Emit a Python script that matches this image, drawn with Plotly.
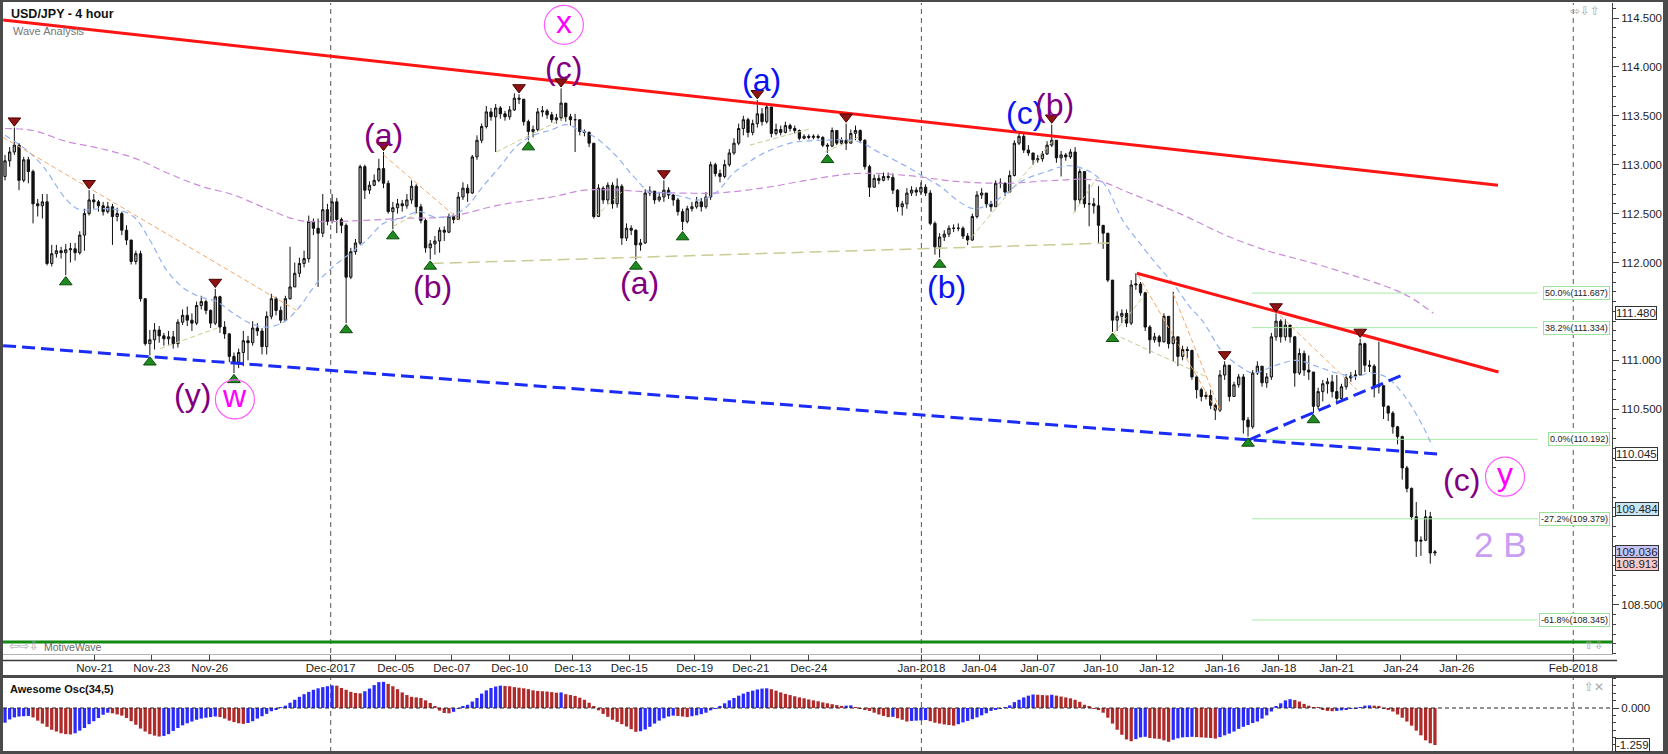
import plotly.graph_objects as go

W, H = 1668, 754
FONT = "Liberation Sans, Arial, sans-serif"

# ---------------- data ----------------
first_open = 112.88
closes = [
    113.04, 113.13, 113.20, 112.84, 113.05, 112.93, 112.60, 112.58, 112.62, 111.99,
    112.09, 112.12, 112.10, 112.13, 112.14, 112.10, 112.28, 112.50, 112.64, 112.62,
    112.58, 112.52, 112.57, 112.47, 112.50, 112.33, 112.23, 112.01, 112.09, 111.63,
    111.17, 111.21, 111.31, 111.25, 111.22, 111.24, 111.17, 111.39, 111.46, 111.41,
    111.38, 111.56, 111.60, 111.51, 111.38, 111.65, 111.34, 111.27, 111.04, 110.98,
    111.08, 111.20, 111.18, 111.33, 111.30, 111.14, 111.45, 111.63, 111.51, 111.41,
    111.63, 111.75, 111.89, 111.99, 112.04, 112.42, 112.35, 112.30, 112.54, 112.42,
    112.62, 112.44, 112.38, 111.85, 112.11, 112.20, 112.98, 112.74, 112.79, 112.84,
    112.96, 112.81, 112.52, 112.56, 112.60, 112.58, 112.64, 112.78, 112.57, 112.43,
    112.15, 112.19, 112.22, 112.33, 112.31, 112.47, 112.44, 112.67, 112.76, 112.71,
    113.08, 113.25, 113.39, 113.54, 113.49, 113.58, 113.52, 113.49, 113.56, 113.68,
    113.67, 113.44, 113.34, 113.36, 113.54, 113.55, 113.51, 113.46, 113.48, 113.63,
    113.49, 113.46, 113.46, 113.34, 113.33, 113.22, 112.47, 112.76, 112.64, 112.79,
    112.60, 112.78, 112.25, 112.35, 112.33, 112.18, 112.20, 112.71, 112.73, 112.64,
    112.67, 112.74, 112.69, 112.64, 112.52, 112.42, 112.55, 112.57, 112.62, 112.57,
    112.67, 113.00, 112.91, 112.88, 113.00, 113.12, 113.22, 113.37, 113.46, 113.33,
    113.42, 113.52, 113.44, 113.59, 113.32, 113.36, 113.33, 113.40, 113.37, 113.35,
    113.27, 113.29, 113.28, 113.29, 113.28, 113.20, 113.19, 113.35, 113.22, 113.25,
    113.22, 113.32, 113.35, 113.25, 112.98, 112.77, 112.86, 112.84, 112.88, 112.87,
    112.74, 112.57, 112.60, 112.71, 112.74, 112.72, 112.77, 112.71, 112.40, 112.16,
    112.26, 112.29, 112.35, 112.35, 112.35, 112.27, 112.23, 112.47, 112.69, 112.71,
    112.60, 112.57, 112.81, 112.81, 112.72, 112.89, 113.22, 113.29, 113.15, 113.12,
    113.05, 113.06, 113.11, 113.20, 113.25, 113.07, 113.10, 113.08, 113.13, 112.64,
    112.93, 112.60, 112.60, 112.58, 112.38, 112.30, 111.82, 111.41, 111.45, 111.48,
    111.38, 111.77, 111.78, 111.69, 111.34, 111.21, 111.24, 111.19, 111.45, 111.17,
    111.24, 111.04, 111.11, 111.10, 110.83, 110.70, 110.63, 110.64, 110.54, 110.49,
    110.85, 110.95, 110.63, 110.75, 110.83, 110.39, 110.32, 110.87, 110.94, 110.77,
    110.83, 111.24, 111.40, 111.24, 111.36, 111.24, 110.87, 111.07, 110.90, 110.88,
    110.53, 110.68, 110.76, 110.78, 110.68, 110.61, 110.73, 110.82, 110.84, 110.85,
    111.17, 110.95, 110.94, 110.73, 110.74, 110.53, 110.46, 110.32, 110.22, 109.90,
    109.69, 109.40, 109.15, 109.16, 109.40, 109.03, 109.04,
]
highs = [
    113.10, 113.18, 113.38, 113.22, 113.08, 113.08, 112.95, 112.65, 112.70, 112.70,
    112.18, 112.18, 112.16, 112.19, 112.20, 112.20, 112.32, 112.55, 112.74, 112.70,
    112.64, 112.62, 112.62, 112.60, 112.56, 112.52, 112.38, 112.22, 112.12, 112.12,
    111.63, 111.31, 111.38, 111.35, 111.28, 111.30, 111.30, 111.42, 111.52, 111.55,
    111.48, 111.60, 111.66, 111.62, 111.52, 111.73, 111.66, 111.40, 111.28, 111.08,
    111.12, 111.30, 111.25, 111.40, 111.38, 111.33, 111.50, 111.68, 111.65, 111.55,
    111.66, 112.16, 112.00, 112.05, 112.12, 112.48, 112.45, 112.45, 112.70, 112.60,
    112.70, 112.66, 112.46, 112.40, 112.15, 112.24, 113.00, 113.00, 112.83, 112.90,
    113.06, 113.13, 112.84, 112.62, 112.65, 112.64, 112.70, 112.84, 112.80, 112.60,
    112.45, 112.23, 112.27, 112.36, 112.37, 112.50, 112.50, 112.72, 112.82, 112.80,
    113.10, 113.30, 113.42, 113.60, 113.58, 113.62, 113.60, 113.55, 113.60, 113.73,
    113.72, 113.62, 113.46, 113.40, 113.58, 113.60, 113.57, 113.54, 113.52, 113.78,
    113.62, 113.52, 113.52, 113.45, 113.36, 113.34, 113.22, 112.80, 112.78, 112.82,
    112.82, 112.86, 112.80, 112.40, 112.38, 112.34, 112.24, 112.75, 112.78, 112.70,
    112.72, 112.84, 112.77, 112.70, 112.66, 112.55, 112.58, 112.62, 112.67, 112.66,
    112.72, 113.03, 113.02, 112.95, 113.05, 113.16, 113.27, 113.42, 113.50, 113.48,
    113.46, 113.66, 113.58, 113.62, 113.50, 113.42, 113.40, 113.44, 113.42, 113.40,
    113.36, 113.31, 113.31, 113.31, 113.31, 113.29, 113.22, 113.38, 113.32, 113.28,
    113.42, 113.36, 113.40, 113.36, 113.26, 113.00, 112.90, 112.90, 112.92, 112.92,
    112.91, 112.75, 112.63, 112.76, 112.78, 112.77, 112.82, 112.80, 112.74, 112.42,
    112.30, 112.33, 112.38, 112.39, 112.40, 112.37, 112.30, 112.50, 112.73, 112.76,
    112.70, 112.63, 112.84, 112.86, 112.82, 112.94, 113.25, 113.34, 113.32, 113.20,
    113.12, 113.10, 113.14, 113.24, 113.41, 113.25, 113.14, 113.12, 113.16, 113.18,
    112.96, 112.92, 112.80, 112.66, 112.78, 112.38, 112.30, 111.82, 111.50, 111.52,
    111.52, 111.82, 111.89, 111.80, 111.70, 111.36, 111.28, 111.26, 111.48, 111.25,
    111.70, 111.24, 111.15, 111.14, 111.11, 110.85, 110.72, 110.68, 110.70, 110.56,
    110.90, 110.99, 110.95, 110.78, 110.86, 110.86, 110.42, 110.90, 110.99, 110.92,
    110.87, 111.28, 111.48, 111.42, 111.42, 111.36, 111.25, 111.12, 111.10, 111.05,
    110.88, 110.72, 110.80, 110.82, 110.85, 110.85, 110.76, 110.86, 110.88, 110.90,
    111.22, 111.18, 111.00, 110.96, 111.19, 110.74, 110.54, 110.48, 110.33, 110.23,
    109.92, 109.70, 109.55, 109.20, 109.47, 109.45, 109.06,
]
lows = [
    112.84, 112.98, 113.10, 112.74, 112.82, 112.81, 112.40, 112.47, 112.45, 111.97,
    111.96, 112.05, 112.04, 111.87, 112.00, 112.02, 112.08, 112.12, 112.48, 112.55,
    112.52, 112.48, 112.50, 112.18, 112.42, 112.28, 112.18, 111.98, 111.98, 111.60,
    111.15, 111.05, 111.11, 111.18, 111.15, 111.16, 111.12, 111.13, 111.36, 111.35,
    111.30, 111.36, 111.52, 111.47, 111.33, 111.36, 111.28, 111.22, 110.98, 110.87,
    110.92, 110.94, 111.00, 111.15, 111.25, 111.06, 111.06, 111.42, 111.46, 111.38,
    111.40, 111.62, 111.75, 111.85, 111.95, 112.00, 112.28, 111.75, 112.26, 112.38,
    112.40, 112.30, 112.30, 111.38, 111.83, 112.08, 112.18, 112.65, 112.70, 112.78,
    112.82, 112.76, 112.50, 112.34, 112.50, 112.52, 112.55, 112.60, 112.50, 112.40,
    112.10, 112.03, 112.08, 112.10, 112.22, 112.30, 112.40, 112.44, 112.64, 112.62,
    112.70, 113.05, 113.22, 113.37, 113.45, 113.13, 113.47, 113.45, 113.46, 113.55,
    113.62, 113.40, 113.25, 113.28, 113.34, 113.49, 113.47, 113.43, 113.42, 113.45,
    113.44, 113.40, 113.13, 113.30, 113.29, 113.18, 112.45, 112.50, 112.60, 112.60,
    112.55, 112.56, 112.18, 112.22, 112.28, 112.03, 112.12, 112.19, 112.68, 112.60,
    112.62, 112.62, 112.65, 112.58, 112.48, 112.33, 112.40, 112.52, 112.55, 112.52,
    112.55, 112.64, 112.88, 112.82, 112.86, 112.98, 113.10, 113.20, 113.30, 113.28,
    113.30, 113.38, 113.40, 113.42, 113.28, 113.30, 113.30, 113.32, 113.34, 113.32,
    113.25, 113.26, 113.26, 113.26, 113.26, 113.18, 113.12, 113.18, 113.20, 113.20,
    113.15, 113.22, 113.25, 113.22, 112.95, 112.67, 112.77, 112.80, 112.83, 112.84,
    112.70, 112.52, 112.48, 112.55, 112.68, 112.68, 112.69, 112.68, 112.38, 112.08,
    112.05, 112.22, 112.26, 112.31, 112.32, 112.24, 112.18, 112.22, 112.45, 112.65,
    112.56, 112.52, 112.57, 112.76, 112.68, 112.78, 112.88, 113.20, 113.12, 113.09,
    113.00, 113.02, 113.03, 113.10, 113.18, 113.02, 112.88, 113.04, 113.06, 112.52,
    112.60, 112.56, 112.37, 112.50, 112.20, 112.14, 111.80, 111.29, 111.30, 111.38,
    111.34, 111.36, 111.72, 111.66, 111.30, 111.07, 111.18, 111.14, 111.18, 111.12,
    110.99, 110.94, 111.00, 111.02, 110.80, 110.61, 110.58, 110.60, 110.50, 110.39,
    110.47, 110.80, 110.58, 110.65, 110.72, 110.25, 110.22, 110.30, 110.85, 110.73,
    110.72, 110.80, 111.20, 111.18, 111.20, 111.18, 110.73, 110.85, 110.84, 110.80,
    110.46, 110.50, 110.58, 110.66, 110.62, 110.55, 110.58, 110.70, 110.78, 110.80,
    110.87, 110.88, 110.88, 110.62, 110.66, 110.40, 110.38, 110.25, 110.14, 109.78,
    109.65, 109.37, 108.99, 109.00, 109.15, 108.92, 109.00,
]
ao_values = [
    -0.50, -0.39, -0.32, -0.29, -0.28, -0.27, -0.32, -0.43, -0.53, -0.64,
    -0.74, -0.80, -0.86, -0.89, -0.90, -0.86, -0.77, -0.68, -0.55, -0.45,
    -0.34, -0.23, -0.16, -0.18, -0.22, -0.26, -0.34, -0.45, -0.57, -0.70,
    -0.80, -0.89, -0.94, -0.97, -0.95, -0.89, -0.78, -0.68, -0.59, -0.52,
    -0.46, -0.40, -0.36, -0.33, -0.31, -0.29, -0.31, -0.36, -0.43, -0.48,
    -0.52, -0.54, -0.51, -0.45, -0.36, -0.28, -0.20, -0.11, -0.05, 0.01,
    0.08, 0.18, 0.28, 0.38, 0.47, 0.55, 0.62, 0.67, 0.71, 0.74,
    0.77, 0.76, 0.68, 0.62, 0.55, 0.51, 0.50, 0.57, 0.66, 0.78,
    0.88, 0.89, 0.82, 0.74, 0.64, 0.53, 0.44, 0.38, 0.36, 0.34,
    0.26, 0.17, 0.05, -0.09, -0.17, -0.18, -0.13, -0.02, 0.05, 0.11,
    0.22, 0.34, 0.49, 0.60, 0.68, 0.73, 0.76, 0.75, 0.74, 0.71,
    0.69, 0.67, 0.64, 0.60, 0.58, 0.57, 0.56, 0.54, 0.52, 0.53,
    0.47, 0.44, 0.41, 0.35, 0.28, 0.18, 0.05, -0.08, -0.20, -0.30,
    -0.40, -0.47, -0.55, -0.63, -0.72, -0.81, -0.79, -0.73, -0.64, -0.53,
    -0.43, -0.35, -0.29, -0.26, -0.27, -0.29, -0.31, -0.28, -0.25, -0.21,
    -0.16, -0.08, -0.01, 0.07, 0.16, 0.26, 0.34, 0.42, 0.49, 0.55,
    0.59, 0.63, 0.66, 0.67, 0.64, 0.59, 0.53, 0.48, 0.44, 0.40,
    0.36, 0.33, 0.29, 0.26, 0.23, 0.19, 0.16, 0.13, 0.10, 0.07,
    0.08, 0.09, 0.03, -0.01, -0.05, -0.10, -0.16, -0.22, -0.27, -0.31,
    -0.30, -0.35, -0.40, -0.46, -0.44, -0.43, -0.42, -0.41, -0.45, -0.50,
    -0.53, -0.56, -0.58, -0.60, -0.55, -0.49, -0.44, -0.38, -0.32, -0.25,
    -0.18, -0.10, -0.05, -0.01, 0.03, 0.09, 0.20, 0.28, 0.36, 0.42,
    0.46, 0.45, 0.44, 0.43, 0.45, 0.42, 0.39, 0.36, 0.33, 0.28,
    0.21, 0.11, 0.04, -0.02, -0.07, -0.16, -0.33, -0.53, -0.74, -0.91,
    -1.07, -1.13, -1.06, -1.00, -0.98, -1.02, -1.04, -1.05, -1.10, -1.15,
    -1.08, -1.03, -1.00, -0.99, -0.98, -0.99, -1.00, -1.01, -1.02, -1.04,
    -0.99, -0.93, -0.87, -0.80, -0.71, -0.64, -0.58, -0.51, -0.46, -0.36,
    -0.25, -0.12, 0.05, 0.16, 0.26, 0.30, 0.27, 0.22, 0.14, 0.08,
    0.03, 0.01, -0.05, -0.10, -0.11, -0.10, -0.08, -0.05, -0.03, -0.01,
    0.03, 0.08, 0.09, 0.08, 0.07, -0.01, -0.05, -0.12, -0.22, -0.33,
    -0.46, -0.60, -0.77, -0.93, -1.10, -1.20, -1.259,
]

tick_pos = [19.2, 31.4, 43.8, 69.7, 83.6, 95.6, 108.0, 121.5, 133.6, 147.6, 159.6, 172.0,
            196.1, 208.5, 221.0, 234.5, 246.5, 260.5, 272.6, 285.0, 298.7, 310.7, 335.6]
tick_text = ["Nov-21", "Nov-23", "Nov-26", "Dec-2017", "Dec-05", "Dec-07", "Dec-10", "Dec-13",
             "Dec-15", "Dec-19", "Dec-21", "Dec-24", "Jan-2018", "Jan-04", "Jan-07", "Jan-10",
             "Jan-12", "Jan-16", "Jan-18", "Jan-21", "Jan-24", "Jan-26", "Feb-2018"]
# price labels visible on the right axis (others are hidden behind value tags)
price_ticks = [108.5, 110.5, 111.0, 112.0, 112.5, 113.0, 113.5, 114.0, 114.5]

# moving averages (bar index, price)
ma_slow_x = [0, 6, 13, 20, 27.5, 35, 42, 49, 56, 63, 70, 77, 84.5, 95, 106, 117, 124, 131, 138,
             145, 152, 162, 171.5, 182, 193, 203.5, 214.2, 224.9, 233.6, 240.7, 251.4, 262.1,
             270.8, 277.1, 285, 299.3, 305.7]
ma_slow_y = [113.37, 113.35, 113.24, 113.17, 113.07, 112.91, 112.78, 112.69, 112.55, 112.43,
             112.42, 112.43, 112.45, 112.47, 112.59, 112.67, 112.74, 112.74, 112.72, 112.71,
             112.71, 112.76, 112.84, 112.91, 112.89, 112.83, 112.81, 112.84, 112.84, 112.71,
             112.50, 112.26, 112.11, 112.03, 111.92, 111.68, 111.48]
ma_fast_x = [0, 4.6, 8.2, 13.2, 16, 20.3, 23.9, 27.5, 31, 34.6, 38.2, 41.7, 45.3, 48.9, 52.4, 56,
             59.6, 63.1, 66.7, 70.3, 73.8, 77.4, 81, 84.5, 88.8, 91.6, 95.2, 98.8, 102.3, 105.9,
             109.5, 113, 116.6, 120.2, 122.3, 125.9, 130.2, 134.5, 138, 141.6, 145.2, 148.7,
             152.3, 155.8, 158.7, 161.6, 168, 175.1, 182.3, 187.3, 193, 196.5, 200.1, 203.7,
             207.2, 210.8, 214.3, 217.9, 222.9, 227.5, 232.1, 235.6, 239.2, 242.8, 246.3, 249.9,
             253.5, 256.3, 260.6, 264.2, 267, 272, 276.3, 280.6, 284.9, 289.1, 292, 295.5,
             299.1, 302.7, 305.5]
ma_fast_y = [113.30, 113.15, 112.98, 112.64, 112.54, 112.55, 112.54, 112.47, 112.23, 111.92,
             111.74, 111.65, 111.60, 111.48, 111.38, 111.34, 111.39, 111.55, 111.79, 111.96,
             112.09, 112.23, 112.40, 112.45, 112.52, 112.47, 112.47, 112.57, 112.78, 112.98,
             113.19, 113.30, 113.35, 113.41, 113.37, 113.29, 113.12, 112.88, 112.72, 112.71,
             112.67, 112.64, 112.72, 112.91, 113.01, 113.10, 113.22, 113.25, 113.24, 113.12,
             112.98, 112.88, 112.78, 112.64, 112.55, 112.60, 112.71, 112.84, 112.93, 112.99,
             112.93, 112.78, 112.43, 112.20, 111.99, 111.79, 111.55, 111.40, 111.08, 110.94,
             110.87, 110.95, 111.00, 110.94, 110.87, 110.83, 110.87, 110.83, 110.66, 110.39,
             110.12]

# trend lines: (x0, y0, x1, y1)
red_lines = [(-0.4, 114.48, 319.5, 112.79), (242.2, 111.89, 319.6, 110.88)]
blue_lines = [(-0.4, 111.15, 307.1, 110.04), (266.1, 110.185, 299.6, 110.86)]
base_line = (91.3, 111.99, 237.2, 112.20)
orange_segs = [(-0.4, 113.28, 62.4, 111.51), (81.0, 113.10, 97.4, 112.43),
               (242.5, 111.87, 259.6, 110.46), (250.0, 111.68, 260.0, 110.49),
               (272.8, 111.46, 289.3, 110.70)]
olive_segs = [(33.2, 111.12, 46.0, 111.34), (83.1, 112.37, 88.8, 112.52),
              (105.1, 113.13, 120.2, 113.49), (126.3, 112.47, 132.0, 112.72),
              (159.4, 113.20, 172.6, 113.37), (175.5, 113.13, 183.0, 113.29),
              (205.8, 112.20, 225.0, 113.29), (228.6, 112.50, 234.3, 112.91),
              (237.2, 111.27, 257.2, 110.83), (237.2, 111.27, 243.6, 111.65)]

# swing markers
top_x = [2, 18, 45, 81, 110, 119, 141, 161, 180, 224, 261, 272, 290]
top_y = [113.45, 112.81, 111.80, 113.20, 113.79, 113.85, 112.91, 113.73, 113.49, 113.48,
         111.06, 111.55, 111.29]
bot_x = [13, 31, 49, 73, 83, 91, 112, 135, 145, 176, 200, 237, 266, 280]
bot_y = [111.80, 110.98, 110.80, 111.31, 112.27, 111.96, 113.18, 111.96, 112.26, 113.05,
         111.98, 111.22, 110.15, 110.39]

# fibonacci levels
fib_pct = ["50.0%", "38.2%", "0.0%", "-27.2%", "-61.8%"]
fib_lvl = [111.687, 111.334, 110.192, 109.379, 108.345]
fib_x0, fib_x1 = 266.8, 328.0

# wave labels
PURPLE, BLUE, MAG = "#800080", "#0a14f0", "#ff00ff"
wave_labels = [("(a)", 81.1, 113.30, PURPLE), ("(b)", 91.5, 111.75, PURPLE),
               ("(c)", 119.6, 113.99, PURPLE), ("(a)", 135.7, 111.79, PURPLE),
               ("(a)", 161.8, 113.87, BLUE), ("(b)", 201.5, 111.75, BLUE),
               ("(c)", 218.1, 113.53, BLUE), ("(b)", 224.5, 113.61, PURPLE),
               ("(y)", 40.2, 110.65, PURPLE), ("(c)", 311.7, 109.78, PURPLE)]
circled = [("x", 119.6, 114.43), ("w", 49.2, 110.60), ("y", 321.0, 109.81)]
big_label = ("2 B", 320.0, 109.12)

# axis value tags
tag_vals = [111.480, 110.045, 109.484, 109.036, 108.913]
tag_fill = ["#ffffff", "#ffffff", "#c8e6f5", "#c4c4fa", "#f7c9c9"]
ao_last = -1.259

# ---------------- helpers for layout positions ----------------
def fx(px):
    return px / W


def fy(py):
    return (H - py) / H


n = min(len(closes), len(highs), len(lows))
idx = list(range(n))
opens = [first_open] + closes[:n - 1]
hi = [max(highs[i], opens[i], closes[i]) for i in range(n)]
lo = [min(lows[i], opens[i], closes[i]) for i in range(n)]

ao = ao_values[:n]
ao_col = []
for i, v in enumerate(ao):
    if i == 0 or v > ao[i - 1]:
        ao_col.append("#2a2aff")
    else:
        ao_col.append("#b02a2a")

fig = go.Figure()

# fib lines
for lv in fib_lvl:
    fig.add_trace(go.Scatter(x=[fib_x0, fib_x1], y=[lv, lv], mode="lines",
                             line=dict(color="#a6eba6", width=1), hoverinfo="skip"))

# moving averages
fig.add_trace(go.Scatter(x=ma_slow_x, y=ma_slow_y, mode="lines",
                         line=dict(color="#c98bd8", width=1.2, dash="7px,4px", shape="spline"),
                         hoverinfo="skip"))
fig.add_trace(go.Scatter(x=ma_fast_x, y=ma_fast_y, mode="lines",
                         line=dict(color="#94b2f2", width=1.2, dash="6px,4px", shape="spline"),
                         hoverinfo="skip"))

# thin wave connectors
for seg in orange_segs:
    fig.add_trace(go.Scatter(x=[seg[0], seg[2]], y=[seg[1], seg[3]], mode="lines",
                             line=dict(color="#f4a868", width=1, dash="5px,3px"), hoverinfo="skip"))
for seg in olive_segs:
    fig.add_trace(go.Scatter(x=[seg[0], seg[2]], y=[seg[1], seg[3]], mode="lines",
                             line=dict(color="#c9c98f", width=1, dash="5px,3px"), hoverinfo="skip"))
fig.add_trace(go.Scatter(x=[base_line[0], base_line[2]], y=[base_line[1], base_line[3]],
                         mode="lines", line=dict(color="#cbcb95", width=1.5, dash="12px,6px"),
                         hoverinfo="skip"))

# candles
fig.add_trace(go.Candlestick(
    x=idx, open=opens, high=hi, low=lo, close=closes[:n],
    increasing=dict(line=dict(color="#111111", width=1), fillcolor="#a8a8a8"),
    decreasing=dict(line=dict(color="#111111", width=1), fillcolor="#111111"),
    whiskerwidth=0, xaxis="x", yaxis="y", hoverinfo="skip"))

# trend lines
for ln in red_lines:
    fig.add_trace(go.Scatter(x=[ln[0], ln[2]], y=[ln[1], ln[3]], mode="lines",
                             line=dict(color="#ff1414", width=3), hoverinfo="skip"))
for ln in blue_lines:
    fig.add_trace(go.Scatter(x=[ln[0], ln[2]], y=[ln[1], ln[3]], mode="lines",
                             line=dict(color="#1a2cf5", width=3, dash="13px,6px"), hoverinfo="skip"))

# swing markers
fig.add_trace(go.Scatter(x=top_x, y=top_y, mode="markers",
                         marker=dict(symbol="triangle-down", size=11, color="#8e1414",
                                     line=dict(color="#4a0000", width=1)), hoverinfo="skip"))
fig.add_trace(go.Scatter(x=bot_x, y=bot_y, mode="markers",
                         marker=dict(symbol="triangle-up", size=11, color="#1f8a1f",
                                     line=dict(color="#0a4a0a", width=1)), hoverinfo="skip"))

# circles for circled wave labels
fig.add_trace(go.Scatter(x=[c[1] for c in circled], y=[c[2] for c in circled], mode="markers",
                         marker=dict(symbol="circle-open", size=39, color="#ff5cff",
                                     line=dict(width=1.2)), hoverinfo="skip"))

# awesome oscillator
fig.add_trace(go.Bar(x=idx, y=ao, marker=dict(color=ao_col, line=dict(width=0)), width=0.7,
                     xaxis="x2", yaxis="y2", hoverinfo="skip"))

# ---------------- layout ----------------
x_range = [(3 - 5) / 4.673, (1612 - 5) / 4.673]
p_top = 114.5 + (18 - 3) / 97.8
p_bot = 114.5 - (654 - 18) / 97.8
ao_scale = 29.4
ao_top = (708 - 677) / ao_scale
ao_bot = -(752 - 708) / ao_scale

tickfont = dict(family=FONT, size=11.5, color="#1e1e1e")

fig.update_layout(
    width=W, height=H, autosize=False,
    margin=dict(l=0, r=0, t=0, b=0),
    paper_bgcolor="white", plot_bgcolor="white",
    showlegend=False,
    font=dict(family=FONT),
    xaxis=dict(domain=[fx(3), fx(1612)], range=x_range, anchor="y",
               tickmode="array", tickvals=tick_pos, ticktext=tick_text,
               ticks="outside", ticklen=6, tickcolor="#404040", tickwidth=1,
               ticklabelstandoff=-3,
               showline=True, linecolor="#b4b4b4", linewidth=1,
               showgrid=False, zeroline=False, tickfont=tickfont,
               rangeslider=dict(visible=False), automargin=False),
    yaxis=dict(domain=[fy(654), fy(3)], range=[p_bot, p_top], side="right",
               tickmode="array", tickvals=price_ticks,
               ticktext=[f"{v:.3f}" for v in price_ticks],
               ticks="outside", ticklen=6, tickcolor="#404040",
               minor=dict(tickmode="linear", tick0=108.0, dtick=0.1, ticks="outside",
                          ticklen=3, tickcolor="#404040", showgrid=False),
               showline=True, linecolor="#404040", linewidth=1,
               showgrid=False, zeroline=False, tickfont=tickfont, automargin=False),
    xaxis2=dict(domain=[fx(3), fx(1612)], anchor="y2", matches="x",
                showticklabels=False, ticks="", showline=False, showgrid=False,
                zeroline=False, automargin=False),
    yaxis2=dict(domain=[fy(752), fy(677)], range=[ao_bot, ao_top], side="right",
                tickmode="array", tickvals=[0], ticktext=["0.000"],
                ticks="outside", ticklen=6, tickcolor="#404040",
                minor=dict(tickmode="linear", tick0=0, dtick=0.25, ticks="outside",
                           ticklen=3, tickcolor="#404040", showgrid=False),
                showline=True, linecolor="#404040", linewidth=1,
                showgrid=False, zeroline=False, tickfont=tickfont, automargin=False),
)

shapes = []
# month separators
month_pos = [p for p, t in zip(tick_pos, tick_text) if len(t) == 8]
for p in month_pos:
    shapes.append(dict(type="line", xref="x", yref="paper", x0=p, x1=p, y0=fy(752), y1=fy(3),
                       line=dict(color="#555555", width=1, dash="5px,4px"), layer="below"))
# green pane bottom line
shapes.append(dict(type="line", xref="paper", yref="paper", x0=fx(3), x1=fx(1612),
                   y0=fy(642), y1=fy(642), line=dict(color="#138a13", width=3)))
# time axis strip lower line
shapes.append(dict(type="line", xref="paper", yref="paper", x0=fx(3), x1=fx(1617),
                   y0=fy(660.5), y1=fy(660.5), line=dict(color="#3c3c3c", width=1.5)))
# panel separator and outer frame
for (x0, y0, x1, y1) in [(0, 675, W, 678), (0, 0, W, 2), (0, 0, 3, H), (1663, 0, W, H),
                         (0, 751, W, H)]:
    shapes.append(dict(type="rect", xref="paper", yref="paper", x0=fx(x0), x1=fx(x1),
                       y0=fy(y1), y1=fy(y0), fillcolor="#4a4a4a", line=dict(width=0)))
# oscillator zero line
shapes.append(dict(type="line", xref="paper", yref="y2", x0=fx(3), x1=fx(1612), y0=0, y1=0,
                   line=dict(color="#222222", width=1, dash="4px,3px")))
fig.update_layout(shapes=shapes)

ann = []
ann.append(dict(text="<b>USD/JPY - 4 hour</b>", xref="paper", yref="paper", x=fx(9), y=fy(14),
                xanchor="left", yanchor="middle", showarrow=False,
                font=dict(family=FONT, size=12.5, color="#111111")))
ann.append(dict(text="Wave Analysis", xref="paper", yref="paper", x=fx(11), y=fy(31),
                xanchor="left", yanchor="middle", showarrow=False,
                font=dict(family=FONT, size=11, color="#777777")))
ann.append(dict(text="<b>Awesome Osc(34,5)</b>", xref="paper", yref="paper", x=fx(8), y=fy(689),
                xanchor="left", yanchor="middle", showarrow=False,
                font=dict(family=FONT, size=11, color="#111111")))
ann.append(dict(text="MotiveWave", xref="paper", yref="paper", x=fx(42), y=fy(647),
                xanchor="left", yanchor="middle", showarrow=False,
                font=dict(family=FONT, size=10.5, color="#6a6a6a")))
# small pane control icons
icon_font = dict(family="DejaVu Sans", size=12, color="#a8a8a8")
for txt, px, py in [("⇦⇨⇩", 7, 646), ("⇨⇩⇧", 1568, 11), ("⇧⇩", 1582, 645), ("⇧✕", 1582, 687)]:
    ann.append(dict(text=txt, xref="paper", yref="paper", x=fx(px), y=fy(py),
                    xanchor="left", yanchor="middle", showarrow=False, font=icon_font))

for t, x, y, c in wave_labels:
    ann.append(dict(text=t, xref="x", yref="y", x=x, y=y, xanchor="center", yanchor="middle",
                    showarrow=False, font=dict(family=FONT, size=32, color=c)))
for t, x, y in circled:
    ann.append(dict(text=t, xref="x", yref="y", x=x, y=y, xanchor="center", yanchor="middle",
                    yshift=3, showarrow=False, font=dict(family=FONT, size=32, color=MAG)))
ann.append(dict(text=big_label[0], xref="x", yref="y", x=big_label[1], y=big_label[2],
                xanchor="center", yanchor="middle", showarrow=False,
                font=dict(family=FONT, size=35, color="#c99ef2")))

for pct, lv in zip(fib_pct, fib_lvl):
    ann.append(dict(text=f"{pct}({lv:.3f})", xref="paper", yref="y", x=fx(1610), y=lv,
                    xanchor="right", yanchor="middle", showarrow=False,
                    font=dict(family=FONT, size=9, color="#222222"),
                    bgcolor="white", bordercolor="#9be39b", borderwidth=1, borderpad=1))

for v, fill in zip(tag_vals, tag_fill):
    ann.append(dict(text=f"{v:.3f}", xref="paper", yref="y", x=fx(1615), y=v,
                    xanchor="left", yanchor="middle", showarrow=False,
                    font=dict(family=FONT, size=11.5, color="#1e1e1e"),
                    bgcolor=fill, bordercolor="#333333", borderwidth=1, borderpad=0))
ann.append(dict(text=f"{ao_last:.3f}", xref="paper", yref="y2", x=fx(1615), y=ao_last,
                xanchor="left", yanchor="middle", showarrow=False,
                font=dict(family=FONT, size=11.5, color="#1e1e1e"),
                bgcolor="white", bordercolor="#333333", borderwidth=1, borderpad=0))
fig.update_layout(annotations=ann)

fig.write_html("out.html", config={"displayModeBar": False},
               post_script="document.body.style.margin='0px';"
                           "document.body.style.overflow='hidden';")
